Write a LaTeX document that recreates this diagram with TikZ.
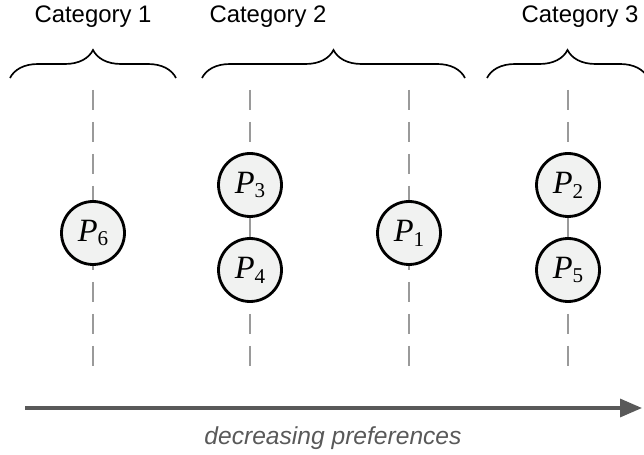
\documentclass[tikz,border=0pt]{standalone}
\usepackage{fontspec}
\setmainfont{Liberation Sans}
\newfontfamily\pfont{Liberation Serif}
\usetikzlibrary{arrows.meta, decorations.pathreplacing}
\definecolor{pfill}{HTML}{F1F2F1}
\definecolor{guidegray}{HTML}{9A9A9A}
\definecolor{arrowgray}{HTML}{595959}
\newcommand{\pname}[1]{{\pfont\itshape P}{\pfont\fontsize{12}{13}\selectfont\raisebox{-0.5ex}{#1}}}
\begin{document}
\begin{tikzpicture}[x = 0.02cm, y = -0.02cm,
		pnode/.style = {draw = black, line width = 1.6pt, fill = pfill, shape = circle, minimum size = 1.26cm, inner sep = 0pt, font = \fontsize{18.5}{20}\selectfont},
		guide/.style = {draw = guidegray, line width = 1.35pt, dash pattern = on 0.4cm off 0.24cm},
		catbrace/.style = {draw = black, line width = 0.95pt, decorate, decoration = {brace, amplitude = 0.56cm}},
		catlabel/.style = {font = \fontsize{13.6}{16}\selectfont}]
		\useasboundingbox (0, 0) rectangle (644, 455);
		\foreach \x [count = \i] in {93, 250, 409, 568}{
			\coordinate (top\i) at (\x, 90);
			\coordinate (bot\i) at (\x, 368);
			\draw[guide] (top\i) -- (bot\i);}
		\foreach \n/\x/\y in {6/93/233, 3/250/185, 4/250/270, 1/409/233, 2/568/185, 5/568/270}{
			\node[pnode] (p\n) at (\x, \y) {\pname{\n}};}
		\foreach \i/\a/\b in {1/10/176, 2/202/465, 3/487/648}{
			\coordinate (bl\i) at (\a, 78);
			\coordinate (br\i) at (\b, 78);
			\draw[catbrace] (bl\i) -- (br\i);}
		\foreach \i/\x in {1/93, 2/268, 3/580}{
			\node[catlabel] (cat\i) at (\x, 17) {Category \i};}
		\coordinate (start) at (25, 408);
		\coordinate (end) at (642, 408);
		\draw[line width = 1.9pt, draw = arrowgray, -{Triangle[length = 0.44cm, width = 0.36cm]}] (start) -- (end);
		\node[font = \itshape\fontsize{14}{16}\selectfont, text = arrowgray] (caption) at (333, 438) {decreasing preferences};
	\end{tikzpicture}
\end{document}
